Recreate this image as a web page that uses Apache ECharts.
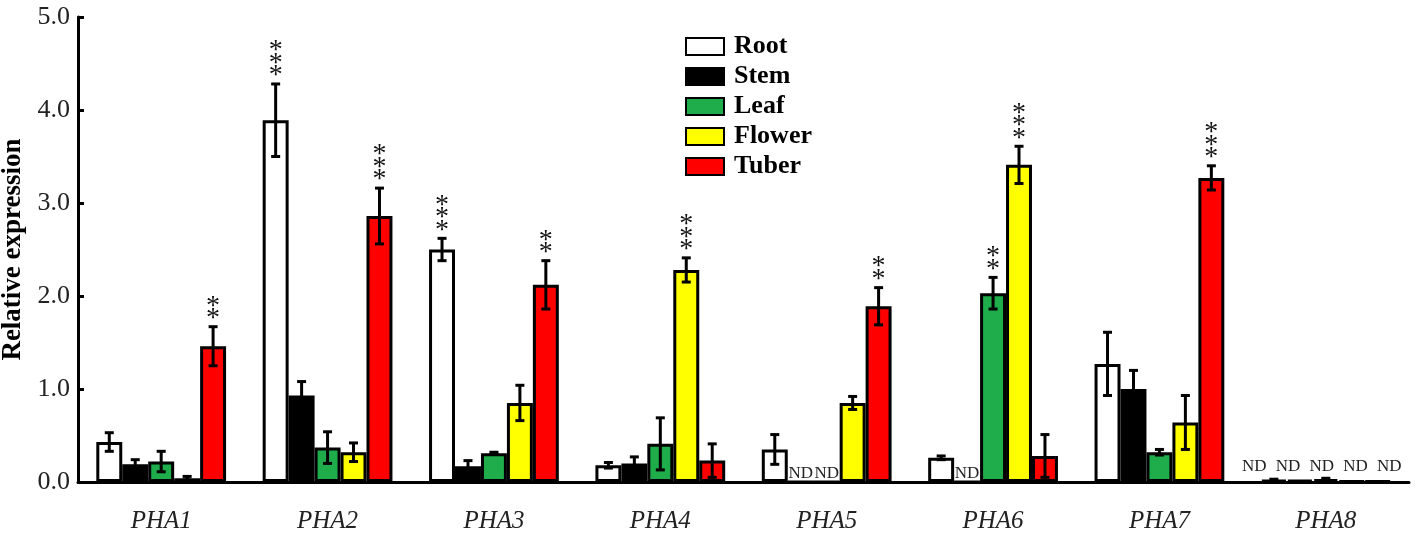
<!DOCTYPE html>
<html>
<head>
<meta charset="utf-8">
<script src="https://cdn.jsdelivr.net/npm/echarts@6/dist/echarts.min.js"></script>
<style>
  html, body { margin: 0; padding: 0; background: #fff; }
  #chart { width: 1417px; height: 542px; }
</style>
</head>
<body>
<div id="chart"></div>
<script>
// genes on the x axis
const categories = ["PHA1", "PHA2", "PHA3", "PHA4", "PHA5", "PHA6", "PHA7", "PHA8"];
const yTicks = [0, 1, 2, 3, 4, 5];

// mean relative expression per tissue
const root = [0.43, 3.89, 2.50, 0.18, 0.35, 0.26, 1.27, 0.02];
const stem = [0.19, 0.93, 0.17, 0.20, 0, 0, 1.00, 0.02];
const leaf = [0.22, 0.37, 0.31, 0.41, 0, 2.03, 0.32, 0.03];
const flower = [0.04, 0.32, 0.85, 2.28, 0.85, 3.41, 0.64, 0.01];
const tuber = [1.46, 2.86, 2.12, 0.23, 1.89, 0.28, 3.27, 0.01];

// error bars (+/-)
const rootErr = [0.10, 0.39, 0.12, 0.03, 0.16, 0.02, 0.34, 0.01];
const stemErr = [0.05, 0.15, 0.06, 0.07, 0, 0, 0.20, 0];
const leafErr = [0.11, 0.17, 0.01, 0.28, 0, 0.17, 0.03, 0.01];
const flowerErr = [0.02, 0.10, 0.19, 0.13, 0.07, 0.20, 0.29, 0];
const tuberErr = [0.21, 0.30, 0.26, 0.18, 0.20, 0.23, 0.13, 0];

// significance stars / not detected
const rootNote = ["", "***", "***", "", "", "", "", "ND"];
const stemNote = ["", "", "", "", "ND", "ND", "", "ND"];
const leafNote = ["", "", "", "", "ND", "**", "", "ND"];
const flowerNote = ["", "", "", "***", "", "***", "", "ND"];
const tuberNote = ["**", "***", "**", "", "**", "", "***", "ND"];

const FONT = "Liberation Serif";
const GAP = 0.22;

const tissues = [
  { name: "Root", color: "#ffffff", vals: root, errs: rootErr, notes: rootNote },
  { name: "Stem", color: "#000000", vals: stem, errs: stemErr, notes: stemNote },
  { name: "Leaf", color: "#1fad4b", vals: leaf, errs: leafErr, notes: leafNote },
  { name: "Flower", color: "#ffff00", vals: flower, errs: flowerErr, notes: flowerNote },
  { name: "Tuber", color: "#ff0000", vals: tuber, errs: tuberErr, notes: tuberNote }
];

const myChart = echarts.init(document.getElementById("chart"));

function errSeries(t, k) {
  return {
    type: "custom",
    z: 10,
    silent: true,
    data: t.vals.map((v, i) => [i, v, t.errs[i]]),
    renderItem: function (params, api) {
      const i = api.value(0), v = api.value(1), e = api.value(2);
      const band = api.size([1, 0])[0];
      const bw = band * (1 - GAP) / 5;
      const cx = api.coord([i, 0])[0];
      const x = cx + (k - 2) * bw;
      const y0 = api.coord([i, 0])[1];
      const yTop = api.coord([i, v + e])[1];
      const yBot = api.coord([i, Math.max(v - e, 0)])[1];
      const kids = [];
      const ls = { stroke: "#000", lineWidth: 3 };
      if (e > 0) {
        kids.push({ type: "line", shape: { x1: x, y1: yTop, x2: x, y2: yBot }, style: ls });
        kids.push({ type: "line", shape: { x1: x - 4.5, y1: yTop, x2: x + 4.5, y2: yTop }, style: ls });
        kids.push({ type: "line", shape: { x1: x - 4.5, y1: yBot, x2: x + 4.5, y2: yBot }, style: ls });
      }
      const note = t.notes[i];
      if (note === "ND") {
        // labels over the tiny bars are spread a little wider, as in the figure
        const lx = v > 0 ? cx + (k - 2) * bw * 1.3 - 4 : x;
        kids.push({
          type: "text",
          style: {
            text: "ND", x: lx, y: y0 - (v > 0 ? 7 : 0),
            align: "center", verticalAlign: "bottom",
            font: "17px " + FONT, fill: "#222"
          }
        });
      } else if (note) {
        for (let j = 0; j < note.length; j++) {
          kids.push({
            type: "text",
            style: {
              text: "*", x: x, y: yTop + 6 - j * 12.5,
              align: "center", verticalAlign: "bottom",
              font: "28px " + FONT, fill: "#111"
            }
          });
        }
      }
      return { type: "group", children: kids };
    }
  };
}

let option = {
  animation: false,
  grid: { left: 78, right: 8, top: 17, bottom: 60, outerBoundsMode: "none" },
  legend: {
    orient: "vertical",
    left: 685,
    top: 33,
    padding: 0,
    itemWidth: 38,
    itemHeight: 17,
    itemGap: 3,
    icon: "rect",
    data: tissues.map(t => t.name),
    textStyle: {
      fontFamily: FONT, fontWeight: "bold", fontSize: 26, lineHeight: 27,
      color: "#000", padding: [0, 0, 0, 5]
    }
  },
  xAxis: {
    type: "category",
    data: categories,
    axisLine: { lineStyle: { color: "#000", width: 3 } },
    axisTick: { length: 6, lineStyle: { color: "#000", width: 3 } },
    axisLabel: { fontFamily: FONT, fontStyle: "italic", fontSize: 25, color: "#222", margin: 27 }
  },
  yAxis: {
    type: "value",
    min: yTicks[0],
    max: yTicks[yTicks.length - 1],
    interval: 1,
    name: "Relative expression",
    nameLocation: "middle",
    nameGap: 46,
    nameTextStyle: { fontFamily: FONT, fontWeight: "bold", fontSize: 27, color: "#000" },
    splitLine: { show: false },
    axisLine: { show: true, lineStyle: { color: "#000", width: 3 } },
    axisTick: { show: true, inside: true, length: 6, lineStyle: { color: "#000", width: 3 } },
    axisLabel: { fontFamily: FONT, fontSize: 26, color: "#222", margin: 8, formatter: v => v.toFixed(1) }
  },
  series: tissues.map(t => ({
    name: t.name,
    type: "bar",
    data: t.vals,
    barGap: "0%",
    barCategoryGap: (GAP * 100) + "%",
    itemStyle: { color: t.color, borderColor: "#000", borderWidth: 3 }
  })).concat(tissues.map((t, k) => errSeries(t, k)))
};

myChart.setOption(option);
</script>
</body>
</html>
